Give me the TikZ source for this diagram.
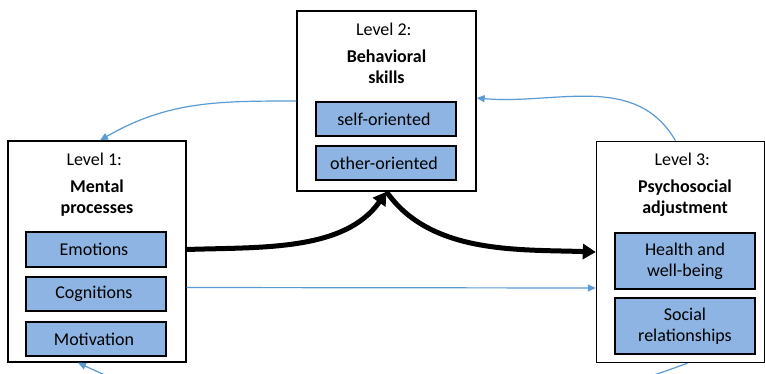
\documentclass[tikz,border=0pt]{standalone}
\usepackage{fontspec}
\setmainfont{Carlito}
\usetikzlibrary{arrows.meta}
\definecolor{boxblue}{RGB}{141,180,226}
\definecolor{lineblue}{RGB}{91,155,213}
\tikzset{
  outerbox/.style={draw, line width=1.4pt, fill=white, inner sep=0pt},
  innerbox/.style={draw, line width=1.3pt, fill=boxblue, minimum width=140pt, inner sep=0pt, align=center},
  title/.style={inner sep=0pt, align=center},
  bigarrow/.style={line width=5pt, -{Triangle[length=13pt,width=15pt]}},
  fbarrow/.style={line width=1.2pt, lineblue, -{Triangle[length=8pt,width=7pt]}}
}
\begin{document}
\begin{tikzpicture}[x=1pt, y=-1pt, font=\fontsize{18}{21}\selectfont]
  \fill [ white ] (0,0) rectangle (765,373);
  \useasboundingbox (0,0) rectangle (765,373);

  \node [ outerbox, minimum width=178pt, minimum height=221pt ] (lvlone) at (97,251.5) {};
  \node [ outerbox, minimum width=179pt, minimum height=180pt ] (lvltwo) at (386.5,101) {};
  \node [ outerbox, minimum width=168pt, minimum height=221pt ] (lvlthree) at (680.5,252) {};

  \node [ title ] (lvlonetxt) at (97,159) { Level 1: };
  \node [ title, font=\fontsize{18}{21}\selectfont\bfseries ] (lvlonehead) at (97,198) { Mental\\processes };
  \node [ innerbox, minimum height=35pt ] (emo) at (96,249.5) { Emotions };
  \node [ innerbox, minimum height=34pt ] (cog) at (96,294) { Cognitions };
  \node [ innerbox, minimum height=34pt ] (mot) at (96,339) { Motivation };

  \node [ title ] (lvltwotxt) at (386.5,29) { Level 2: };
  \node [ title, font=\fontsize{18}{21}\selectfont\bfseries ] (lvltwohead) at (386.5,67) { Behavioral\\skills };
  \node [ innerbox, minimum height=34pt ] (self) at (386,119) { self-oriented };
  \node [ innerbox, minimum height=34pt ] (other) at (386,163) { other-oriented };

  \node [ title ] (lvlthreetxt) at (685,159) { Level 3: };
  \node [ title, font=\fontsize{18}{21}\selectfont\bfseries ] (lvlthreehead) at (685,198) { Psychosocial\\adjustment };
  \node [ innerbox, minimum height=56pt ] (health) at (685,261) { Health and\\well-being };
  \node [ innerbox, minimum height=56pt ] (social) at (685,326) { Social\\relationships };

  \draw [ bigarrow ] (lvlone.east |- emo) to [ out=2, in=-125, looseness=0.9 ] (lvltwo.south);
  \draw [ bigarrow ] (lvltwo.south) to [ out=-55, in=178, looseness=0.9 ] (lvlthree.west);
  \draw [ fbarrow ] ([yshift=-36pt]lvlone.east) -- ([yshift=-36pt]lvlthree.west);

  \draw [ fbarrow ] (lvltwo.west) to [ out=180, in=30 ] ([xshift=3pt]lvlone.north);
  \draw [ fbarrow ] ([xshift=-5pt]lvlthree.north) to [ out=120, in=-5 ] ([yshift=3pt]lvltwo.east);
  \draw [ fbarrow ] ([xshift=7pt]lvlthree.south) to [ out=-160, in=-25 ] ([xshift=-19pt]lvlone.south);
\end{tikzpicture}
\end{document}
